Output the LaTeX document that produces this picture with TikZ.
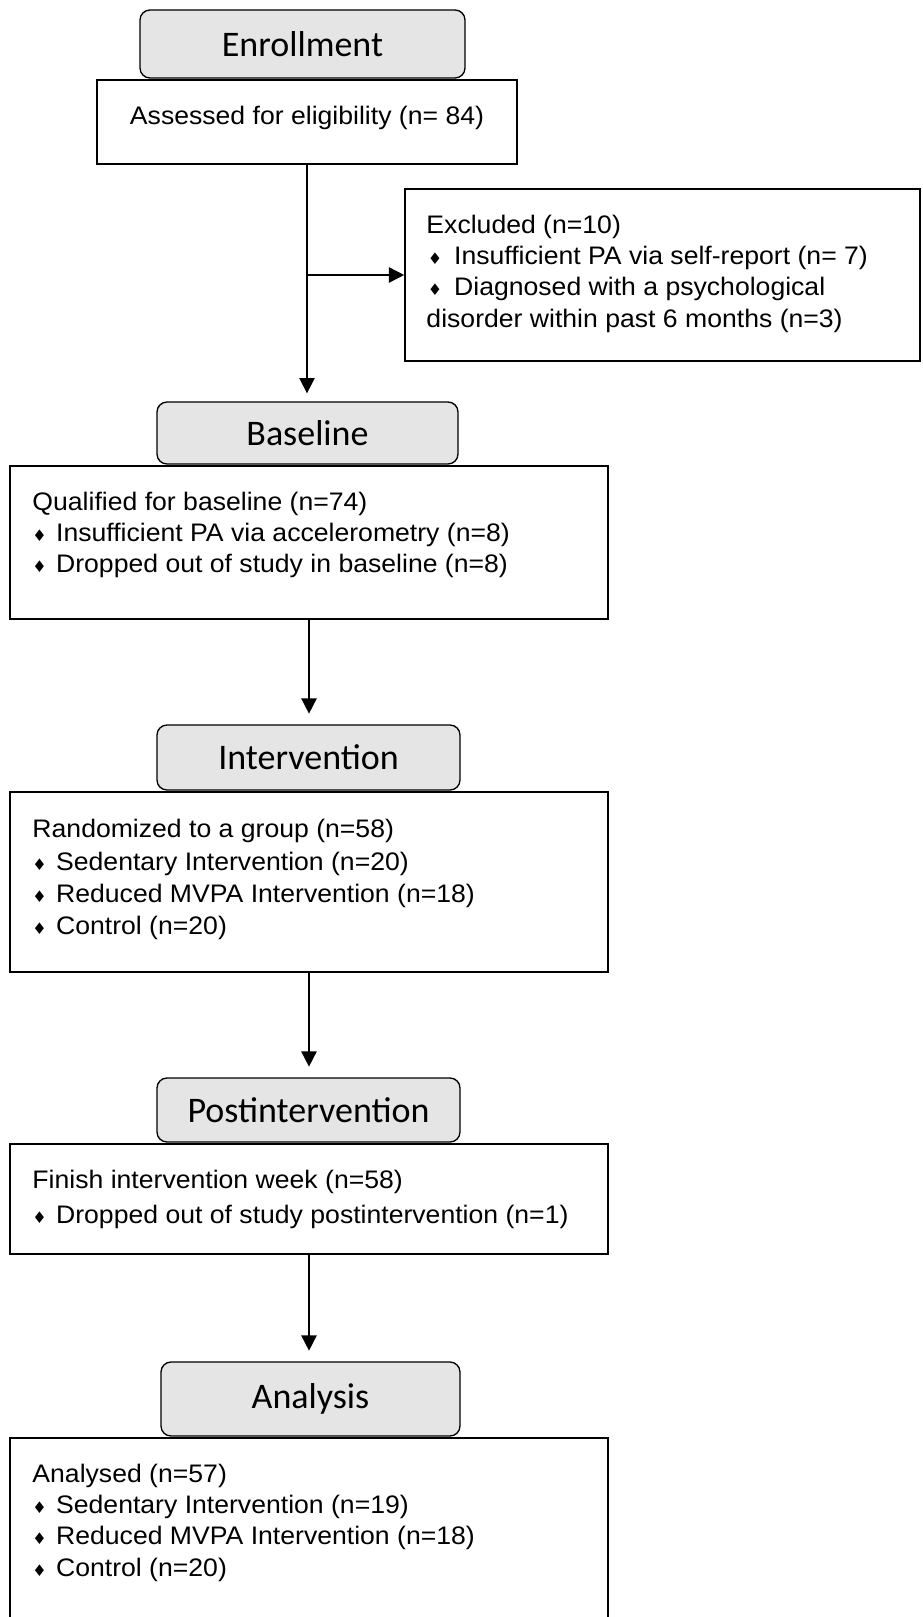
\documentclass[tikz,border=0pt]{standalone}
\usepackage{fontspec}
\setmainfont{Liberation Sans}[FakeStretch=1.05]
\newfontfamily\headfont{Carlito}
\newfontfamily\symfont{DejaVu Sans}
\usepackage{tikz}
\usetikzlibrary{arrows.meta}
\usetikzlibrary{positioning}
\newcommand{\pu}{0.75pt}
\newcommand{\bul}{{\symfont\fontsize{12}{12}\selectfont ♦}\hspace{7pt}}

\begin{document}
\begin{tikzpicture}[
        x=\pu, y=-\pu,
        >={Triangle[length=11.5pt,width=11.5pt]},
        every node/.style={font=\fontsize{19}{23.4}\selectfont},
        stage/.style={rectangle,rounded corners=7.5pt,draw=black,line width=1pt,
                      fill=gray!20,font=\headfont\fontsize{27}{30}\selectfont},
        box/.style={rectangle,draw=black,line width=1.2pt,inner sep=0pt},
        txt/.style={inner sep=0pt,align=left},
        flow/.style={->,line width=1.2pt}
      ]
      \useasboundingbox (0,0) rectangle (922,1617);
      \clip (0,0) rectangle (922,1617);

      \node(enrstage)[stage,minimum width=325*\pu,minimum height=68*\pu] at (302.5,44) {Enrollment};
      \node(assessed)[box,minimum width=420*\pu,minimum height=84*\pu] at (307,122) {};
      \node(assessedtxt)[txt,below=20pt of assessed.north] {Assessed for eligibility (n= 84)};

      \node(excl)[box,minimum width=515*\pu,minimum height=172*\pu] at (662.5,275) {};
      \node(excltxt)[txt,below right=20pt and 16.5pt of excl.north west] {Excluded (n=10)\\
        \hspace{1pt}\bul\hspace{2pt}Insufficient PA via self-report (n= 7)\\
        \hspace{1pt}\bul\hspace{2pt}Diagnosed with a psychological\\
        disorder within past 6 months (n=3)};

      \node(basestage)[stage,minimum width=301*\pu,minimum height=62*\pu] at (307.5,433) {Baseline};
      \node(basebox)[box,minimum width=598*\pu,minimum height=153*\pu] at (309,542.5) {};
      \node(basetxt)[txt,below right=20pt and 17.25pt of basebox.north west] {Qualified for baseline (n=74)\\
        \bul Insufficient PA via accelerometry (n=8)\\
        \bul Dropped out of study in baseline (n=8)};

      \node(intstage)[stage,minimum width=303*\pu,minimum height=65*\pu] at (308.5,757.5) {Intervention};
      \node(intbox)[box,minimum width=598*\pu,minimum height=180*\pu] at (309,882) {};
      \node(inttxt)[txt,below right=21pt and 17.25pt of intbox.north west] {Randomized to a group (n=58)\\[1pt]
        \bul Sedentary Intervention (n=20)\\[1pt]
        \bul Reduced MVPA Intervention (n=18)\\
        \bul Control (n=20)};

      \node(poststage)[stage,minimum width=303*\pu,minimum height=64*\pu] at (308.5,1110) {Postintervention};
      \node(postbox)[box,minimum width=598*\pu,minimum height=110*\pu] at (309,1199) {};
      \node(posttxt)[txt,below right=20pt and 17.25pt of postbox.north west] {Finish intervention week (n=58)\\[3pt]
        \bul Dropped out of study postintervention (n=1)};

      \node(anastage)[stage,minimum width=299*\pu,minimum height=74*\pu] at (310.5,1399) {Analysis};
      \node(anabox)[box,minimum width=598*\pu,minimum height=222*\pu] at (309,1549) {};
      \node(anatxt)[txt,below right=20pt and 17.25pt of anabox.north west] {Analysed (n=57)\\
        \bul Sedentary Intervention (n=19)\\
        \bul Reduced MVPA Intervention (n=18)\\
        \bul Control (n=20)};

      \draw[flow,shorten >=6pt] (assessed.south) -- (assessed.south |- basestage.north);
      \draw[flow] (assessed.south |- excl.west) -- (excl.west);
      \draw[flow,shorten >=8pt] (basebox.south) -- (basebox.south |- intstage.north);
      \draw[flow,shorten >=8pt] (intbox.south) -- (intbox.south |- poststage.north);
      \draw[flow,shorten >=8pt] (postbox.south) -- (postbox.south |- anastage.north);
\end{tikzpicture}
\end{document}
